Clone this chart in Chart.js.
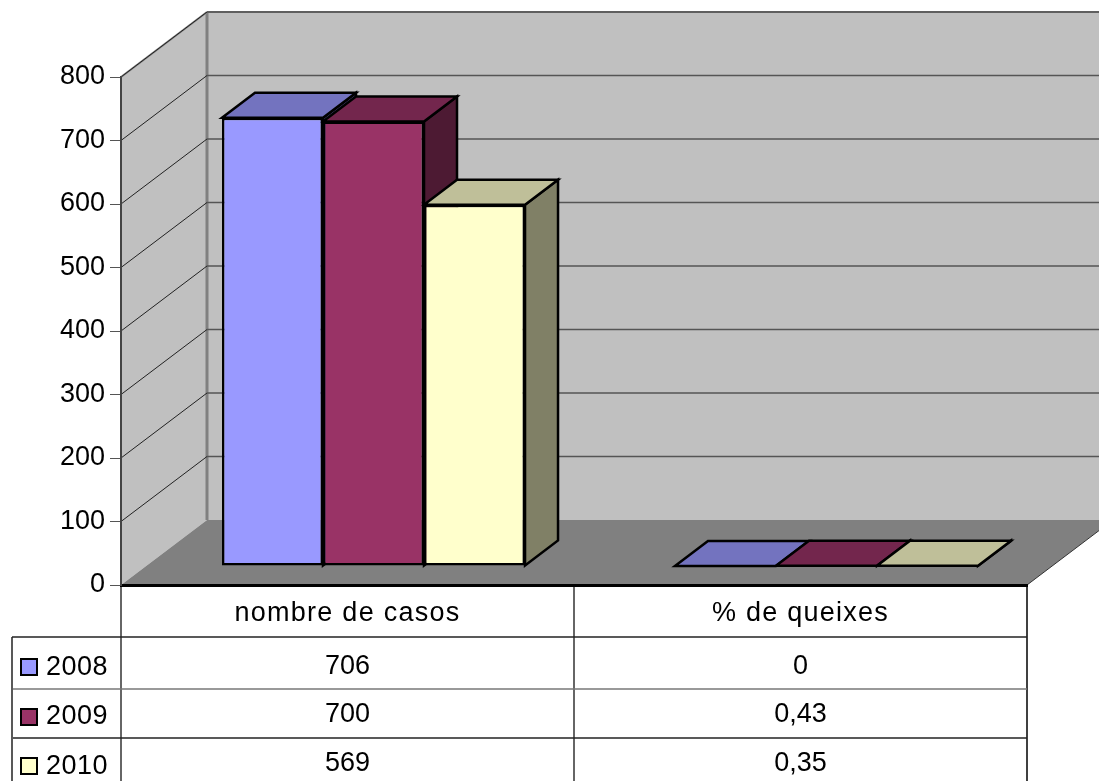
<!DOCTYPE html>
<html>
<head>
<meta charset="utf-8">
<title>Casos i queixes</title>
<script src="https://cdn.jsdelivr.net/npm/chart.js@4/dist/chart.umd.js"></script>
<style>
  html, body { margin: 0; padding: 0; background: #fff; overflow: hidden; }
  canvas { display: block; }
</style>
</head>
<body>
<canvas id="chart" width="1099" height="781"></canvas>
<script>
const categories = ['nombre de casos', '% de queixes'];
const yearLabels = ['2008', '2009', '2010'];
const values2008 = [706, 0];
const values2009 = [700, 0.43];
const values2010 = [569, 0.35];
const yTickMax = 800;
const yTickStep = 100;

const FONT_FAMILY = '"Liberation Sans", Arial, sans-serif';
const FONT = '27px ' + FONT_FAMILY;
const WALL_DX = 86, WALL_DY = -65;   // how far the back wall sits behind the axis plane
const BAR_DX = 26, BAR_DY = -19;     // bars stand a bit inside the floor
const BAR_DEPTH_X = 33, BAR_DEPTH_Y = -25;
const ROW_LINES = [637, 689, 738];
const VALUE_BASELINES = [674, 722, 771];
const KEY_BASELINES = [675, 724, 774];
const KEY_TOPS = [659, 709, 758];

function poly(ctx, pts, fill, stroke, lineWidth) {
  ctx.beginPath();
  pts.forEach((p, i) => i ? ctx.lineTo(p[0], p[1]) : ctx.moveTo(p[0], p[1]));
  ctx.closePath();
  if (fill) { ctx.fillStyle = fill; ctx.fill(); }
  if (stroke) { ctx.strokeStyle = stroke; ctx.lineWidth = lineWidth; ctx.lineJoin = 'miter'; ctx.stroke(); }
}

function line(ctx, x1, y1, x2, y2, color, width) {
  ctx.beginPath();
  ctx.moveTo(x1, y1);
  ctx.lineTo(x2, y2);
  ctx.strokeStyle = color;
  ctx.lineWidth = width;
  ctx.stroke();
}

const box3d = {
  id: 'box3d',
  // walls, floor and wall grid
  beforeDraw(chart) {
    const ctx = chart.ctx, x = chart.scales.x, y = chart.scales.y;
    const l = x.left, r = x.right, t = y.top, b = y.bottom;
    const far = chart.width + 40;
    ctx.save();
    poly(ctx, [[l + WALL_DX, t + WALL_DY], [far, t + WALL_DY], [far, b + WALL_DY], [l + WALL_DX, b + WALL_DY]], '#c0c0c0');
    poly(ctx, [[l, b], [l, t], [l + WALL_DX, t + WALL_DY], [l + WALL_DX, b + WALL_DY]], '#c0c0c0');
    poly(ctx, [[l, b], [l + WALL_DX, b + WALL_DY], [r + WALL_DX, b + WALL_DY], [r, b]], '#808080');
    line(ctx, l, t, l + WALL_DX, t + WALL_DY, '#808080', 2);
    line(ctx, l + WALL_DX, t + WALL_DY, far, t + WALL_DY, '#808080', 2);
    line(ctx, l + WALL_DX, t + WALL_DY, l + WALL_DX, b + WALL_DY, '#808080', 3);
    line(ctx, r, b, r + WALL_DX, b + WALL_DY, '#333', 1);
    y.ticks.forEach(tick => {
      if (tick.value === 0) return;
      const py = y.getPixelForValue(tick.value);
      line(ctx, l, py, l + WALL_DX, py + WALL_DY, '#222', 1);
      line(ctx, l + WALL_DX, py + WALL_DY, far, py + WALL_DY, '#555', 1.5);
    });
    ctx.restore();
  },
  // tops and sides first, the library then paints the front faces over them
  beforeDatasetsDraw(chart) {
    const ctx = chart.ctx;
    ctx.save();
    ctx.translate(BAR_DX, BAR_DY);
    chart.data.datasets.forEach((ds, i) => {
      chart.getDatasetMeta(i).data.forEach(bar => {
        const p = bar.getProps(['x', 'y', 'base', 'width']);
        const left = p.x - p.width / 2, right = p.x + p.width / 2;
        poly(ctx, [[right, p.y], [right + BAR_DEPTH_X, p.y + BAR_DEPTH_Y], [right + BAR_DEPTH_X, p.base + BAR_DEPTH_Y], [right, p.base]], ds.sideColor, '#000', 2.5);
        poly(ctx, [[left, p.y], [left + BAR_DEPTH_X, p.y + BAR_DEPTH_Y], [right + BAR_DEPTH_X, p.y + BAR_DEPTH_Y], [right, p.y]], ds.topColor, '#000', 2.5);
      });
    });
  },
  afterDatasetsDraw(chart) {
    chart.ctx.restore();
    chart.ctx.letterSpacing = '1.25px'; // x labels are on a later layer and want the wider spacing
  },
  // data table below the axis
  afterDraw(chart) {
    const ctx = chart.ctx, x = chart.scales.x, y = chart.scales.y;
    const bottom = chart.height;
    ctx.save();
    ctx.letterSpacing = '0px';
    const mid = (x.getPixelForValue(0) + x.getPixelForValue(1)) / 2;
    line(ctx, x.left, y.bottom + 2, x.left, bottom, '#666', 2);
    line(ctx, mid, y.bottom + 2, mid, bottom, '#666', 2);
    line(ctx, x.right, y.bottom, x.right, bottom, '#000', 1.5);
    line(ctx, 12, ROW_LINES[0], 12, bottom, '#222', 1.5);
    line(ctx, 12, ROW_LINES[0], x.right, ROW_LINES[0], '#222', 1.5);
    line(ctx, 13, ROW_LINES[1], x.right, ROW_LINES[1], '#777', 1.5);
    line(ctx, 13, ROW_LINES[2], x.right, ROW_LINES[2], '#222', 1.5);

    ctx.font = FONT;
    ctx.textBaseline = 'alphabetic';
    chart.data.datasets.forEach((ds, i) => {
      ctx.fillStyle = ds.backgroundColor;
      ctx.fillRect(21, KEY_TOPS[i], 16, 16);
      ctx.strokeStyle = '#000';
      ctx.lineWidth = 2;
      ctx.strokeRect(21, KEY_TOPS[i], 16, 16);
      ctx.fillStyle = '#000';
      ctx.textAlign = 'left';
      ctx.letterSpacing = '0.5px';
      ctx.fillText(ds.label, 46, KEY_BASELINES[i]);
      ctx.textAlign = 'center';
      ctx.letterSpacing = '0px';
      ds.data.forEach((v, j) => {
        ctx.fillText(String(v).replace('.', ','), x.getPixelForValue(j), VALUE_BASELINES[i]);
      });
    });
    ctx.restore();
  }
};

new Chart(document.getElementById('chart'), {
  type: 'bar',
  plugins: [box3d],
  data: {
    labels: categories,
    datasets: [
      { label: yearLabels[0], data: values2008, backgroundColor: '#9999ff', topColor: '#7373bf', sideColor: '#4d4d80' },
      { label: yearLabels[1], data: values2009, backgroundColor: '#993366', topColor: '#73264d', sideColor: '#4d1a33' },
      { label: yearLabels[2], data: values2010, backgroundColor: '#ffffcc', topColor: '#bfbf99', sideColor: '#808066' }
    ].map(ds => ({ ...ds, borderColor: '#000', borderWidth: 2.5, borderSkipped: false, categoryPercentage: 0.669, barPercentage: 1, clip: false }))
  },
  options: {
    responsive: false,
    animation: false,
    layout: { autoPadding: false, padding: { top: 77, right: 72 } },
    plugins: { legend: { display: false }, tooltip: { enabled: false } },
    scales: {
      x: {
        afterFit(scale) { scale.height = 196; },
        grid: { display: false },
        border: { color: '#000', width: 3 },
        ticks: { z: 1, color: '#000', font: { family: FONT_FAMILY, size: 27 }, padding: 4, maxRotation: 0 }
      },
      y: {
        afterFit(scale) { scale.width = 121; },
        min: 0,
        max: yTickMax,
        grid: { drawOnChartArea: false, color: '#555', tickLength: 11 },
        border: { color: '#444', width: 2 },
        ticks: { stepSize: yTickStep, color: '#000', font: { family: FONT_FAMILY, size: 27 }, padding: 5 }
      }
    }
  }
});
</script>
</body>
</html>
